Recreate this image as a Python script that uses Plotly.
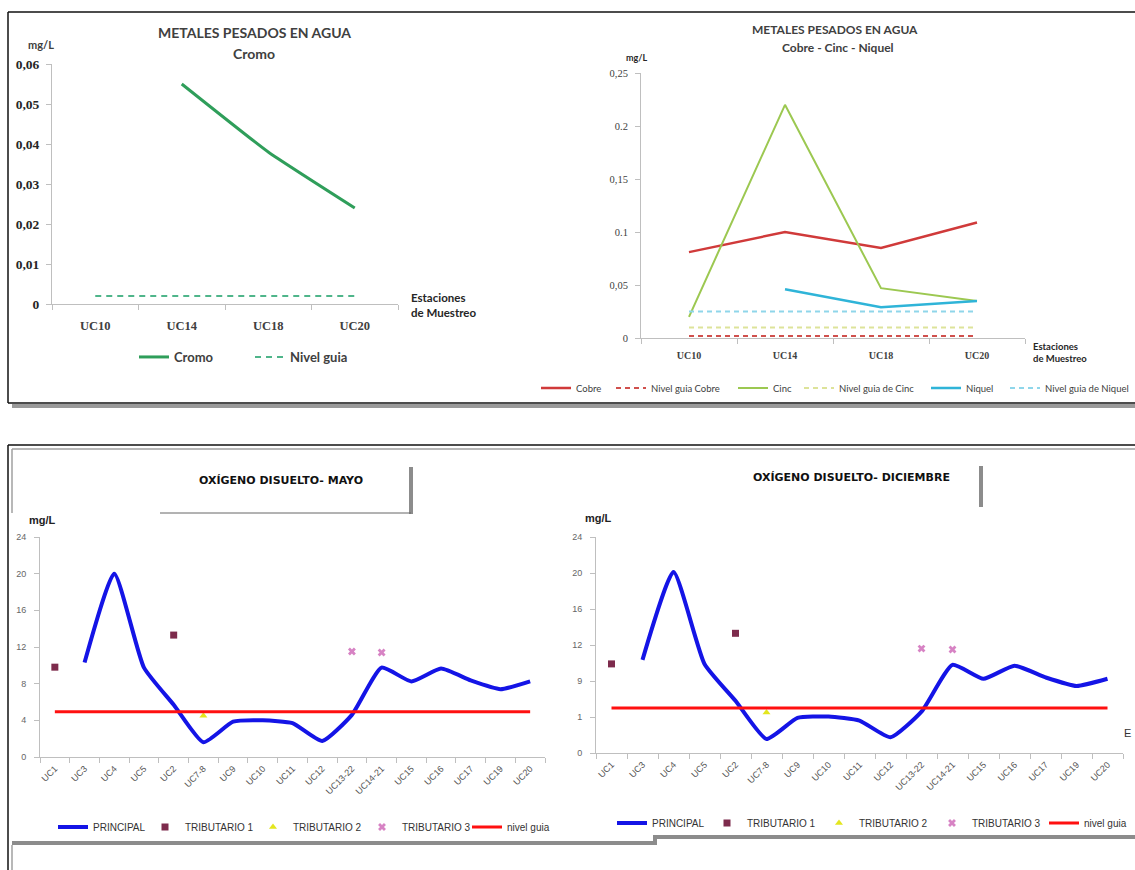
import plotly.graph_objects as go

W, H = 1135, 870

# ---------------- DATA ----------------
metal_stations = ["UC10", "UC14", "UC18", "UC20"]
cromo = [None, 0.055, 0.038, 0.024]
cromo_guia = [0.002, 0.002, 0.002, 0.002]
cromo_tickvals = [0, 0.01, 0.02, 0.03, 0.04, 0.05, 0.06]
cromo_ticktext = ["0", "0,01", "0,02", "0,03", "0,04", "0,05", "0,06"]

cobre = [0.081, 0.100, 0.085, 0.109]
cobre_guia = [0.002, 0.002, 0.002, 0.002]
cinc = [0.020, 0.220, 0.047, 0.035]
cinc_guia = [0.010, 0.010, 0.010, 0.010]
niquel = [None, 0.046, 0.029, 0.035]
niquel_guia = [0.025, 0.025, 0.025, 0.025]
metal_tickvals = [0, 0.05, 0.10, 0.15, 0.20, 0.25]
metal_ticktext = ["0", "0,05", "0.1", "0,15", "0.2", "0,25"]

od_stations = ["UC1", "UC3", "UC4", "UC5", "UC2", "UC7-8", "UC9", "UC10", "UC11",
               "UC12", "UC13-22", "UC14-21", "UC15", "UC16", "UC17", "UC19", "UC20"]
principal_mayo = [None, 10.3, 20.0, 9.75, 5.7, 1.6, 3.85, 4.0, 3.7, 1.75, 4.6,
                  9.75, 8.25, 9.65, 8.35, 7.4, 8.25]
trib1_st = ["UC1", "UC2"]
trib1_mayo = [9.8, 13.3]
trib2_st = ["UC7-8"]
trib2_mayo = [4.5]
trib3_st = ["UC13-22", "UC14-21"]
trib3_mayo = [11.5, 11.4]
guia_st = ["UC1", "UC20"]
guia_mayo = [4.95, 4.95]

principal_dic = [None, 10.35, 20.1, 9.9, 5.8, 1.55, 3.9, 4.05, 3.6, 1.75, 4.6,
                 9.8, 8.25, 9.7, 8.4, 7.45, 8.25]
trib1_dic = [9.9, 13.3]
trib2_dic = [4.5]
trib3_dic = [11.6, 11.5]
guia_dic = [5.0, 5.0]

od_tickvals = [0, 4, 8, 12, 16, 20, 24]
od_ticktext_mayo = ["0", "4", "8", "12", "16", "20", "24"]
od_ticktext_dic = ["0", "1", "9", "12", "16", "20", "24"]

# ---------------- HELPERS ----------------
def px(x):
    return x / W

def py(y):
    return 1 - y / H

CAL = "Lato"
SERIF = "Liberation Serif"
ARIAL = "Liberation Sans"

fig = go.Figure()
legends = {}
leg_counter = [0]

def new_legend(text_x, y, font):
    leg_counter[0] += 1
    n = leg_counter[0]
    name = "legend" if n == 1 else f"legend{n}"
    legends[name] = dict(x=px(text_x - 40), y=py(y), xanchor="left", yanchor="middle",
                         orientation="h", bgcolor="rgba(0,0,0,0)", borderwidth=0,
                         font=font, itemclick=False, itemdoubleclick=False)
    return name

# ---------- Chart 1: Cromo ----------
f1 = dict(family=CAL, size=13, color="#404040", weight="bold")
fig.add_trace(go.Scatter(x=metal_stations, y=cromo, mode="lines", name="Cromo",
                         line=dict(color="#2f9e5a", width=3, shape="spline", smoothing=0.4),
                         xaxis="x", yaxis="y", legend=new_legend(174, 357, f1)))
fig.add_trace(go.Scatter(x=metal_stations, y=cromo_guia, mode="lines", name="Nivel guia",
                         line=dict(color="#4fb58a", width=2, dash="6px,5px"),
                         xaxis="x", yaxis="y", legend=new_legend(290, 357, f1)))

# ---------- Chart 2: Cobre - Cinc - Niquel ----------
f2 = dict(family=CAL, size=9.5, color="#404040")
c2 = [
    ("Cobre", cobre, "#d03a3a", 2.5, None, 576),
    ("Nivel guia Cobre", cobre_guia, "#d0504d", 2, "5px,4px", 651),
    ("Cinc", cinc, "#9cc851", 2, None, 773),
    ("Nivel guia de Cinc", cinc_guia, "#dde39a", 2, "5px,4px", 839),
    ("Niquel", niquel, "#2fb4d8", 2.5, None, 966),
    ("Nivel guia de Niquel", niquel_guia, "#8fd6ea", 2, "5px,4px", 1045),
]
for name, vals, col, wd, dash, lx in c2:
    fig.add_trace(go.Scatter(x=metal_stations, y=vals, mode="lines", name=name,
                             line=dict(color=col, width=wd, dash=dash),
                             xaxis="x2", yaxis="y2", legend=new_legend(lx, 388, f2)))

# ---------- Charts 3 & 4: Oxigeno disuelto ----------
f3 = dict(family=ARIAL, size=10, color="#333333")

def od_chart(xa, ya, principal, t1, t2, t3, guia, lx, ly):
    fig.add_trace(go.Scatter(x=od_stations, y=principal, mode="lines", name="PRINCIPAL",
                             line=dict(color="#1414e6", width=4, shape="spline", smoothing=0.5),
                             xaxis=xa, yaxis=ya, legend=new_legend(lx[0], ly, f3)))
    fig.add_trace(go.Scatter(x=trib1_st, y=t1, mode="markers", name="TRIBUTARIO 1",
                             marker=dict(symbol="square", size=7, color="#7d2b4c"),
                             xaxis=xa, yaxis=ya, legend=new_legend(lx[1], ly, f3)))
    fig.add_trace(go.Scatter(x=trib2_st, y=t2, mode="markers", name="TRIBUTARIO 2",
                             marker=dict(symbol="triangle-up", size=7, color="#e3e61e"),
                             xaxis=xa, yaxis=ya, legend=new_legend(lx[2], ly, f3)))
    fig.add_trace(go.Scatter(x=trib3_st, y=t3, mode="markers", name="TRIBUTARIO 3",
                             marker=dict(symbol="x", size=7, color="#d783c4",
                                         line=dict(width=0)),
                             xaxis=xa, yaxis=ya, legend=new_legend(lx[3], ly, f3)))
    fig.add_trace(go.Scatter(x=guia_st, y=guia, mode="lines", name="nivel guia",
                             line=dict(color="#ff1010", width=3),
                             xaxis=xa, yaxis=ya, legend=new_legend(lx[4], ly, f3)))

od_chart("x3", "y3", principal_mayo, trib1_mayo, trib2_mayo, trib3_mayo, guia_mayo,
         [93, 185, 293, 402, 507], 827)
od_chart("x4", "y4", principal_dic, trib1_dic, trib2_dic, trib3_dic, guia_dic,
         [652, 747, 859, 972, 1084], 823)

# ---------------- AXES ----------------
AX = "#bfbfbf"

def cat_axis(domain, anchor, cats, font, angle=0, standoff=0):
    return dict(domain=domain, anchor=anchor, type="category", categoryorder="array",
                categoryarray=cats, range=[-0.5, len(cats) - 0.5], tickson="boundaries",
                ticks="outside", ticklen=5, tickcolor=AX, showline=True, linecolor=AX,
                linewidth=1, showgrid=False, zeroline=False, tickfont=font,
                tickangle=angle, ticklabelstandoff=standoff, fixedrange=True)

def val_axis(domain, anchor, rng, tv, tt, font, standoff=2):
    return dict(domain=domain, anchor=anchor, range=rng, tickvals=tv, ticktext=tt,
                ticks="outside", ticklen=5, tickcolor=AX, showline=True, linecolor=AX,
                linewidth=1, showgrid=False, zeroline=False, tickfont=font,
                ticklabelstandoff=standoff, fixedrange=True)

layout_axes = dict(
    xaxis=cat_axis([px(52), px(398)], "y", metal_stations,
                   dict(family=SERIF, size=12.5, color="#404040", weight="bold"), standoff=10),
    yaxis=val_axis([py(304), py(64)], "x", [0, 0.06], cromo_tickvals, cromo_ticktext,
                   dict(family=SERIF, size=13.5, color="#262626", weight="bold"), standoff=4),
    xaxis2=cat_axis([px(641), px(1025)], "y2", metal_stations,
                    dict(family=SERIF, size=10, color="#404040", weight="bold"), standoff=8),
    yaxis2=val_axis([py(338), py(73)], "x2", [0, 0.25], metal_tickvals, metal_ticktext,
                    dict(family=SERIF, size=10.5, color="#404040"), standoff=5),
    xaxis3=cat_axis([px(40), px(545)], "y3", od_stations,
                    dict(family=ARIAL, size=9, color="#555555"), angle=-45, standoff=2),
    yaxis3=val_axis([py(757), py(537)], "x3", [0, 24], od_tickvals, od_ticktext_mayo,
                    dict(family=ARIAL, size=9, color="#666666"), standoff=6),
    xaxis4=cat_axis([px(596), px(1123)], "y4", od_stations,
                    dict(family=ARIAL, size=9, color="#555555"), angle=-45, standoff=2),
    yaxis4=val_axis([py(753), py(537)], "x4", [0, 24], od_tickvals, od_ticktext_dic,
                    dict(family=ARIAL, size=9, color="#666666"), standoff=6),
)

# ---------------- FRAMES ----------------
def seg(x0, y0, x1, y1, color="#111111", width=1.5):
    return dict(type="line", xref="paper", yref="paper", x0=px(x0), y0=py(y0),
                x1=px(x1), y1=py(y1), line=dict(color=color, width=width), layer="above")

shapes = [
    # top panel frame
    seg(12, 406, 1135, 406, "#9a9a9a", 4),
    seg(8, 12, 1135, 12),
    seg(8, 12, 8, 403),
    seg(8, 403, 1135, 403),
    # bottom panel frame
    seg(8, 445, 1135, 445),
    seg(12, 449, 1135, 449, "#a0a0a0", 1.5),
    seg(8, 445, 8, 870),
    seg(12, 449, 12, 513, "#a0a0a0", 1.5),
    seg(12, 845, 12, 870, "#a0a0a0", 1.5),
    seg(12, 843, 655, 843, "#8c8c8c", 4),
    seg(655, 837, 1135, 837, "#8c8c8c", 4),
    seg(655, 835, 655, 845, "#8c8c8c", 4),
    # title boxes
    seg(411, 467, 411, 514, "#8c8c8c", 4),
    seg(160, 513, 411, 513, "#666666", 1),
    seg(981, 466, 981, 507, "#8c8c8c", 4),
]

# ---------------- TEXT ----------------
def ann(text, x, y, font, xanchor="center", align="center"):
    return dict(text=text, x=px(x), y=py(y), xref="paper", yref="paper",
                xanchor=xanchor, yanchor="middle", showarrow=False, font=font, align=align)

tb1 = dict(family=CAL, size=14, color="#404040", weight="bold")
tb2 = dict(family=CAL, size=12, color="#404040", weight="bold")
tb3 = dict(family="DejaVu Sans", size=11, color="#111111", weight="bold")
annotations = [
    ann("METALES PESADOS EN AGUA", 254, 33, tb1),
    ann("Cromo", 254, 53, tb1),
    ann("mg/L", 41, 45, dict(family=CAL, size=11, color="#404040", weight="bold")),
    ann("Estaciones<br>de Muestreo", 409, 305,
        dict(family=CAL, size=11.5, color="#262626", weight="bold"), "left", "left"),
    ann("METALES PESADOS EN AGUA", 835, 30, tb2),
    ann("Cobre - Cinc - Niquel", 838, 47, tb2),
    ann("mg/L", 636, 57, dict(family=CAL, size=9, color="#262626", weight="bold")),
    ann("Estaciones<br>de Muestreo", 1031, 352,
        dict(family=CAL, size=9.5, color="#262626", weight="bold"), "left", "left"),
    ann("OXÍGENO DISUELTO- MAYO", 281, 480, tb3),
    ann("mg/L", 42, 520, dict(family=ARIAL, size=11, color="#222222", weight="bold")),
    ann("OXÍGENO DISUELTO- DICIEMBRE", 851, 477, tb3),
    ann("mg/L", 598, 518, dict(family=ARIAL, size=11, color="#222222", weight="bold")),
    ann("E", 1133, 733, dict(family=ARIAL, size=11, color="#333333"), "right"),
]

fig.update_layout(
    width=W, height=H, autosize=False, template="none",
    margin=dict(l=0, r=0, t=0, b=0, pad=0),
    paper_bgcolor="white", plot_bgcolor="rgba(0,0,0,0)",
    shapes=shapes, annotations=annotations, showlegend=True,
    **layout_axes, **legends,
)

fig.write_html("out.html", config={"displayModeBar": False, "staticPlot": True},
               post_script="document.body.style.margin='0px';document.body.style.padding='0px';")
